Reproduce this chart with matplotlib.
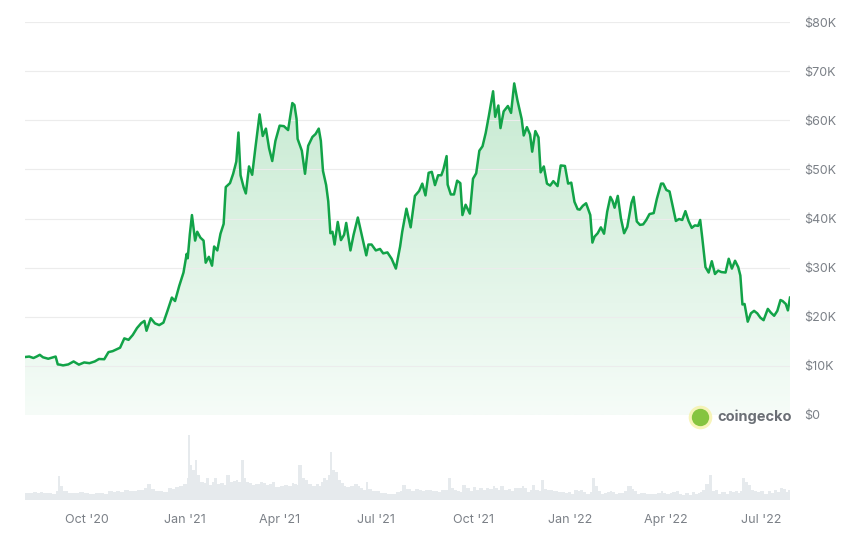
import numpy as np
import pandas as pd
import matplotlib
matplotlib.use("Agg")
import matplotlib.pyplot as plt
import matplotlib.dates as mdates
from matplotlib.patches import Polygon
from matplotlib.lines import Line2D
from matplotlib.colors import LinearSegmentedColormap

# BTC price (USD)
dates = [
    "2020-08-03", "2020-08-07", "2020-08-11", "2020-08-14", "2020-08-17", "2020-08-20", "2020-08-25", "2020-08-29",
    "2020-09-01", "2020-09-03", "2020-09-05", "2020-09-08", "2020-09-13", "2020-09-18", "2020-09-23", "2020-09-28",
    "2020-10-03", "2020-10-08", "2020-10-12", "2020-10-17", "2020-10-21", "2020-10-25", "2020-10-28", "2020-11-01",
    "2020-11-05", "2020-11-09", "2020-11-13", "2020-11-17", "2020-11-21", "2020-11-24", "2020-11-26", "2020-11-30",
    "2020-12-04", "2020-12-08", "2020-12-12", "2020-12-16", "2020-12-20", "2020-12-23", "2020-12-27", "2020-12-31",
    "2021-01-03", "2021-01-04", "2021-01-06", "2021-01-08", "2021-01-11", "2021-01-13", "2021-01-16", "2021-01-19",
    "2021-01-21", "2021-01-24", "2021-01-27", "2021-01-29", "2021-02-01", "2021-02-04", "2021-02-07", "2021-02-09",
    "2021-02-13", "2021-02-16", "2021-02-19", "2021-02-21", "2021-02-23", "2021-02-26", "2021-02-28", "2021-03-03",
    "2021-03-06", "2021-03-09", "2021-03-13", "2021-03-16", "2021-03-19", "2021-03-22", "2021-03-25", "2021-03-28",
    "2021-04-01", "2021-04-05", "2021-04-09", "2021-04-13", "2021-04-15", "2021-04-17", "2021-04-18", "2021-04-22",
    "2021-04-25", "2021-04-28", "2021-05-02", "2021-05-05", "2021-05-08", "2021-05-10", "2021-05-12", "2021-05-15",
    "2021-05-17", "2021-05-19", "2021-05-21", "2021-05-23", "2021-05-26", "2021-05-29", "2021-06-01", "2021-06-03",
    "2021-06-07", "2021-06-10", "2021-06-14", "2021-06-16", "2021-06-19", "2021-06-22", "2021-06-24", "2021-06-27",
    "2021-07-01", "2021-07-05", "2021-07-08", "2021-07-12", "2021-07-16", "2021-07-20", "2021-07-24", "2021-07-26",
    "2021-07-30", "2021-08-03", "2021-08-07", "2021-08-11", "2021-08-14", "2021-08-17", "2021-08-20", "2021-08-23",
    "2021-08-26", "2021-08-29", "2021-09-01", "2021-09-03", "2021-09-06", "2021-09-07", "2021-09-10", "2021-09-13",
    "2021-09-16", "2021-09-19", "2021-09-21", "2021-09-24", "2021-09-28", "2021-10-01", "2021-10-04", "2021-10-07",
    "2021-10-10", "2021-10-13", "2021-10-16", "2021-10-20", "2021-10-22", "2021-10-25", "2021-10-27", "2021-10-30",
    "2021-11-03", "2021-11-06", "2021-11-09", "2021-11-12", "2021-11-16", "2021-11-18", "2021-11-21", "2021-11-24",
    "2021-11-26", "2021-11-29", "2021-12-02", "2021-12-04", "2021-12-07", "2021-12-10", "2021-12-13", "2021-12-16",
    "2021-12-20", "2021-12-23", "2021-12-27", "2021-12-30", "2022-01-02", "2022-01-05", "2022-01-08", "2022-01-10",
    "2022-01-13", "2022-01-16", "2022-01-20", "2022-01-22", "2022-01-24", "2022-01-27", "2022-01-30", "2022-02-02",
    "2022-02-05", "2022-02-08", "2022-02-10", "2022-02-12", "2022-02-15", "2022-02-18", "2022-02-21", "2022-02-24",
    "2022-02-28", "2022-03-02", "2022-03-05", "2022-03-08", "2022-03-11", "2022-03-14", "2022-03-17", "2022-03-21",
    "2022-03-24", "2022-03-28", "2022-03-30", "2022-04-02", "2022-04-05", "2022-04-07", "2022-04-11", "2022-04-14",
    "2022-04-17", "2022-04-20", "2022-04-23", "2022-04-26", "2022-04-29", "2022-05-02", "2022-05-04", "2022-05-06",
    "2022-05-09", "2022-05-12", "2022-05-15", "2022-05-18", "2022-05-21", "2022-05-24", "2022-05-28", "2022-05-31",
    "2022-06-03", "2022-06-06", "2022-06-09", "2022-06-11", "2022-06-13", "2022-06-15", "2022-06-18", "2022-06-21",
    "2022-06-24", "2022-06-27", "2022-06-30", "2022-07-03", "2022-07-07", "2022-07-10", "2022-07-13", "2022-07-16",
    "2022-07-19", "2022-07-21", "2022-07-24", "2022-07-26", "2022-07-28",
]
prices = [
    11800, 11900, 11600, 11900, 12250, 11750, 11450, 11700,
    11900, 10300, 10250, 10100, 10300, 10900, 10250, 10700,
    10550, 10900, 11400, 11350, 12800, 13000, 13300, 13700,
    15600, 15300, 16300, 17700, 18700, 19150, 17150, 19700,
    18650, 18300, 18800, 21300, 23900, 23200, 26300, 29000,
    32800, 31900, 36800, 40700, 35500, 37300, 36100, 35500,
    31000, 32200, 30400, 34300, 33500, 36900, 38900, 46400,
    47200, 49100, 51600, 57500, 48800, 46300, 45100, 50600,
    48900, 54300, 61200, 56800, 58300, 54300, 51700, 55800,
    58900, 58800, 58000, 63500, 63100, 60300, 56200, 53800,
    49100, 54800, 56600, 57200, 58300, 55800, 49700, 46800,
    43500, 37000, 37300, 34700, 39300, 35600, 36700, 39100,
    33500, 36700, 40200, 38300, 35500, 32500, 34700, 34700,
    33500, 33800, 32900, 33100, 31800, 29800, 34300, 37300,
    42000, 38200, 44600, 45600, 47100, 44700, 49300, 49500,
    46800, 48800, 48800, 50000, 52700, 46900, 44900, 44900,
    47700, 47200, 40700, 42800, 41000, 48100, 49200, 53800,
    54700, 57400, 60900, 65900, 60700, 63000, 58400, 61800,
    62900, 61500, 67500, 64100, 60300, 56900, 58600, 57100,
    53600, 57800, 56500, 49400, 50600, 47100, 46700, 47600,
    46600, 50800, 50700, 47100, 47300, 43400, 41900, 41800,
    42600, 43100, 40700, 35100, 36300, 37000, 38200, 36900,
    41400, 44400, 43600, 42200, 44600, 40000, 37000, 38300,
    43200, 44400, 39400, 38700, 38800, 39700, 40900, 41100,
    44000, 47100, 47100, 45800, 45500, 43500, 39500, 39900,
    39700, 41500, 39500, 38100, 38600, 38500, 39700, 36000,
    30100, 29000, 31300, 28700, 29400, 29100, 29000, 31800,
    29800, 31400, 30100, 28400, 22500, 22600, 19000, 20700,
    21200, 20700, 19800, 19300, 21600, 20800, 20200, 21200,
    23400, 23200, 22600, 21300, 23900,
]
# traded volume, relative units
volumes = [
    7, 7, 8, 7, 8, 7, 7, 6,
    9, 24, 14, 9, 7, 7, 8, 7,
    6, 7, 7, 6, 9, 8, 9, 8,
    10, 9, 9, 10, 10, 12, 16, 11,
    9, 9, 8, 12, 11, 13, 14, 16,
    22, 65, 35, 30, 40, 25, 18, 17,
    22, 15, 18, 22, 16, 17, 15, 25,
    18, 19, 20, 18, 40, 22, 18, 17,
    15, 16, 18, 17, 15, 16, 18, 13,
    14, 15, 14, 17, 16, 15, 35, 22,
    20, 16, 14, 16, 14, 18, 22, 20,
    25, 48, 30, 28, 20, 17, 14, 13,
    14, 16, 14, 12, 10, 18, 11, 9,
    9, 7, 7, 6, 6, 8, 9, 15,
    11, 9, 11, 10, 9, 10, 10, 9,
    9, 8, 10, 10, 10, 22, 12, 10,
    9, 8, 15, 12, 9, 13, 10, 12,
    10, 12, 11, 14, 12, 10, 14, 10,
    11, 9, 12, 12, 14, 12, 8, 10,
    15, 10, 9, 20, 11, 10, 10, 9,
    8, 8, 7, 8, 6, 10, 9, 10,
    8, 6, 8, 22, 14, 9, 6, 7,
    8, 9, 8, 6, 7, 7, 9, 14,
    11, 9, 6, 7, 7, 6, 6, 6,
    7, 9, 7, 6, 7, 8, 9, 6,
    5, 7, 5, 8, 6, 7, 8, 10,
    16, 25, 9, 10, 6, 8, 6, 9,
    8, 9, 7, 9, 22, 18, 15, 10,
    9, 8, 9, 6, 9, 7, 10, 8,
    12, 11, 8, 10, 14,
]
tick_dates = ["2020-10-01", "2021-01-01", "2021-04-01", "2021-07-01",
              "2021-10-01", "2022-01-01", "2022-04-01", "2022-07-01"]
tick_labels = ["Oct '20", "Jan '21", "Apr '21", "Jul '21",
               "Oct '21", "Jan '22", "Apr '22", "Jul '22"]
price_ticks = [0, 10000, 20000, 30000, 40000, 50000, 60000, 70000, 80000]

x = mdates.date2num(pd.to_datetime(dates))
y = np.array(prices, dtype=float)
vol = np.array(volumes, dtype=float)
xt = mdates.date2num(pd.to_datetime(tick_dates))

plt.rcParams['font.family'] = ['Inter', 'DejaVu Sans']
grey = '#7b8087'
green = '#12a348'

fig = plt.figure(figsize=(8.46, 5.44), dpi=100)
ax = fig.add_axes([25 / 846, 129 / 544, 765 / 846, 393 / 544])
axv = fig.add_axes([25 / 846, 44 / 544, 765 / 846, 80 / 544], sharex=ax)

# gradient fill under the price line
cmap = LinearSegmentedColormap.from_list('g', ['#f6fcf8', '#c6ead1'])
grad = np.linspace(0, 1, 256).reshape(-1, 1)
im = ax.imshow(grad, cmap=cmap, origin='lower', aspect='auto',
               extent=[x[0], x[-1], 0, 68000], zorder=1)
poly = Polygon(np.column_stack([np.r_[x[0], x, x[-1]], np.r_[0, y, 0]]),
               closed=True, facecolor='none', edgecolor='none',
               transform=ax.transData)
ax.add_patch(poly)
im.set_clip_path(poly)

ax.plot(x, y, color=green, lw=1.8, zorder=3, solid_joinstyle='round')

ax.set_xlim(x[0], x[-1])
ax.set_ylim(0, 80000)
ax.set_yticks(price_ticks)
ax.set_yticklabels(['$0' if v == 0 else f'${v // 1000}K' for v in price_ticks])
ax.yaxis.tick_right()
ax.tick_params(axis='y', length=0, pad=10, labelsize=9, labelcolor=grey)
ax.tick_params(axis='x', which='both', bottom=False, labelbottom=False)
ax.grid(axis='y', color='#ececec', lw=0.8, zorder=0)
for s in ax.spines.values():
    s.set_visible(False)

# volume bars
widths = np.diff(np.r_[x, x[-1] + 2])
axv.bar(x, vol, width=widths, align='edge', color='#e6eaed', lw=0)
axv.axhline(0, color='#eef0f2', lw=0.8)
axv.set_ylim(0, 80)
axv.set_yticks([])
axv.set_xticks(xt)
axv.set_xticklabels(tick_labels)
axv.tick_params(axis='x', length=0, pad=10, labelsize=9, labelcolor=grey)
for s in axv.spines.values():
    s.set_visible(False)
axv.set_xlim(x[0], x[-1])

# coingecko mark
fig.add_artist(Line2D([700 / 846], [127 / 544], transform=fig.transFigure,
                      marker='o', markersize=17, markerfacecolor='#f5f2a8',
                      markeredgecolor='none', alpha=0.8))
fig.add_artist(Line2D([700 / 846], [127 / 544], transform=fig.transFigure,
                      marker='o', markersize=12.5, markerfacecolor='#86c440',
                      markeredgecolor='none'))
fig.text(717 / 846, 127 / 544, 'coingecko', fontsize=10.5, fontweight='bold',
         color='#6a6f75', va='center', ha='left')

fig.savefig('out.png', dpi=100)
